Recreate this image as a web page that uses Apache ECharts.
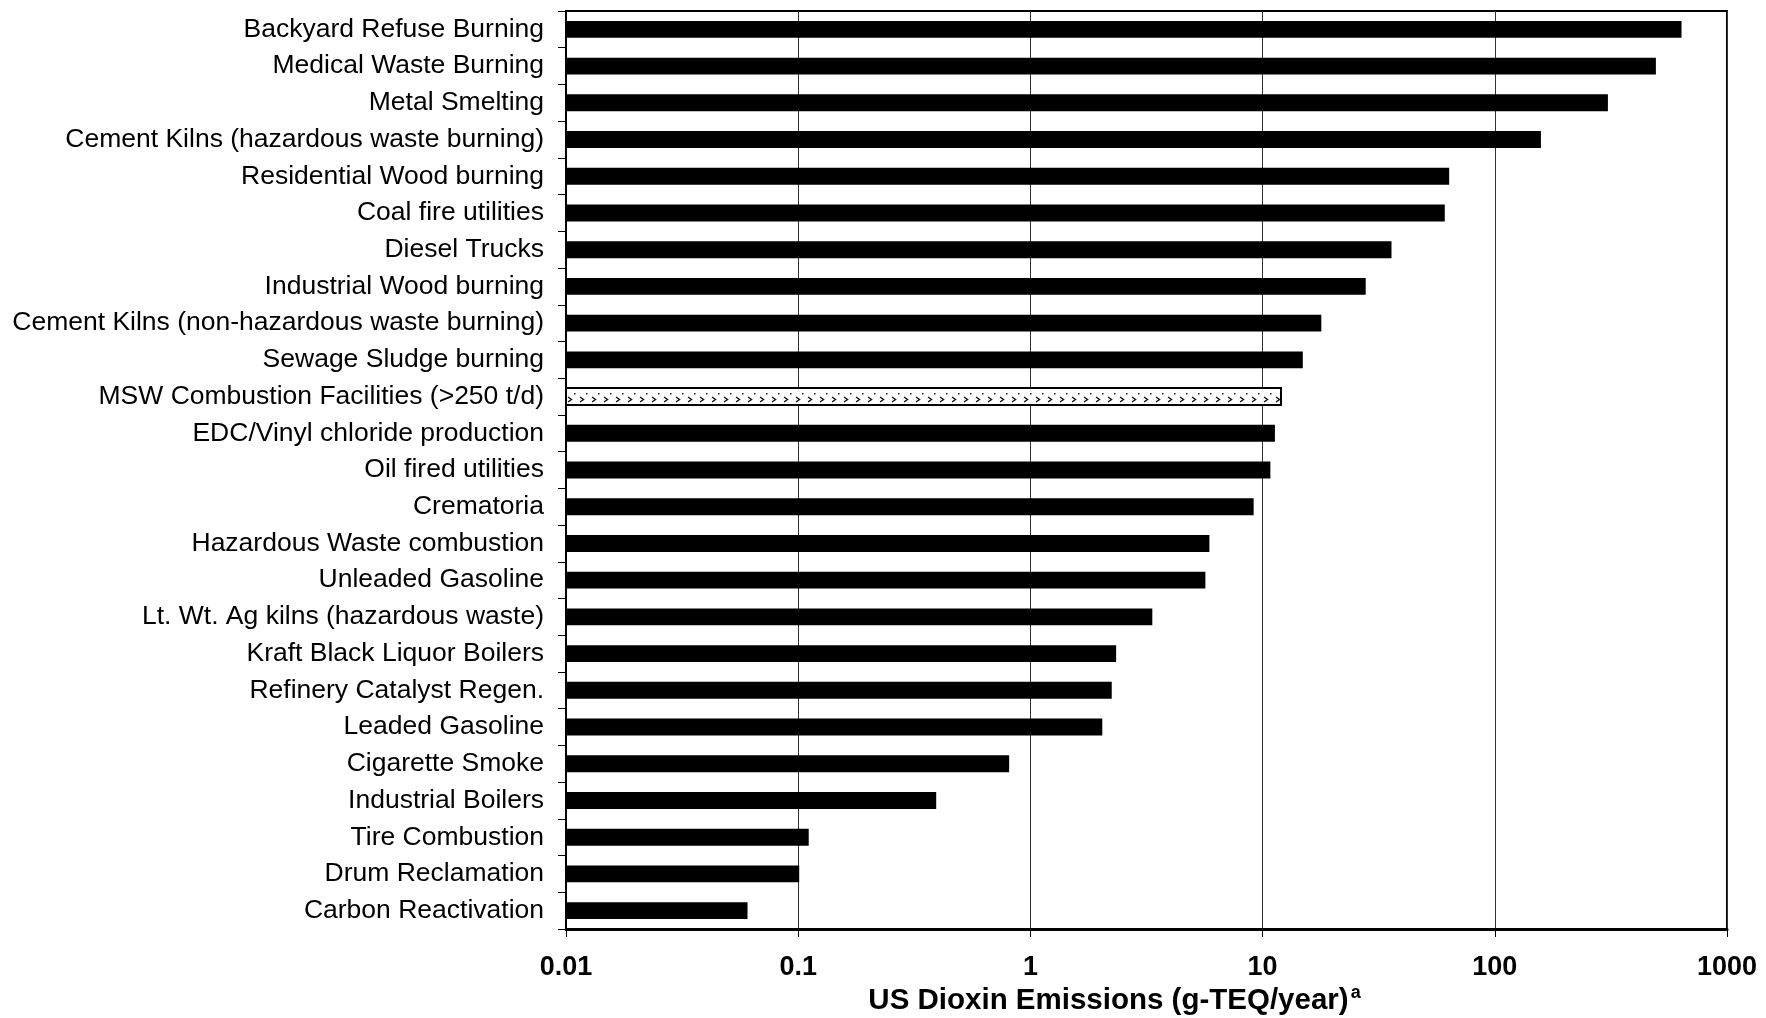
<!DOCTYPE html>
<html>
<head>
<meta charset="utf-8">
<script src="https://cdn.jsdelivr.net/npm/echarts@6/dist/echarts.min.js"></script>
<style>
html,body{margin:0;padding:0;background:#fff;}
#chart{width:1766px;height:1018px;}
</style>
</head>
<body>
<div id="chart"></div>
<script>
// ---- data ----
var categories = [
  'Backyard Refuse Burning',
  'Medical Waste Burning',
  'Metal Smelting',
  'Cement Kilns (hazardous waste burning)',
  'Residential Wood burning',
  'Coal fire utilities',
  'Diesel Trucks',
  'Industrial Wood burning',
  'Cement Kilns (non-hazardous waste burning)',
  'Sewage Sludge burning',
  'MSW Combustion Facilities (>250 t/d)',
  'EDC/Vinyl chloride production',
  'Oil fired utilities',
  'Crematoria',
  'Hazardous Waste combustion',
  'Unleaded Gasoline',
  'Lt. Wt. Ag kilns (hazardous waste)',
  'Kraft Black Liquor Boilers',
  'Refinery Catalyst Regen.',
  'Leaded Gasoline',
  'Cigarette Smoke',
  'Industrial Boilers',
  'Tire Combustion',
  'Drum Reclamation',
  'Carbon Reactivation'
];
var emissions = [
  637, 494, 307, 158, 63.6, 60.9, 35.9, 27.8, 17.9, 14.9,
  12.0, 11.3, 10.8, 9.15, 5.9, 5.67, 3.35, 2.34, 2.24, 2.04,
  0.81, 0.393, 0.111, 0.101, 0.0605
];
var highlighted = ['MSW Combustion Facilities (>250 t/d)'];
var xTicks = [0.01, 0.1, 1, 10, 100, 1000];
var xTitle = 'US Dioxin Emissions (g-TEQ/year)';
var xTitleSup = 'a';

// ---- pattern for highlighted bar ----
function makePattern() {
  var c = document.createElement('canvas');
  c.width = 12; c.height = 17;
  var g = c.getContext('2d');
  g.fillStyle = '#ffffff';
  g.fillRect(0, 0, 12, 17);
  g.strokeStyle = '#111';
  g.lineWidth = 1.4;
  g.beginPath();
  g.moveTo(4, 6); g.lineTo(7.5, 8.5); g.lineTo(4, 11);
  g.stroke();
  g.fillStyle = '#222';
  g.fillRect(10, 2, 1.5, 1.5);
  g.fillRect(10, 13.5, 1.5, 1.5);
  return c;
}
var patternCanvas = makePattern();

var chart = echarts.init(document.getElementById('chart'), null, {renderer: 'canvas'});
var FONT = '"Liberation Sans", Arial, Helvetica, sans-serif';
var xMin = xTicks[0], xMax = xTicks[xTicks.length - 1];

var seriesData = emissions.map(function (v, i) { return [v, i]; });

chart.setOption({
  backgroundColor: '#ffffff',
  animation: false,
  grid: {
    left: 566, right: 39, top: 11, bottom: 89,
    containLabel: false,
    outerBoundsMode: 'none',
    show: true, borderColor: '#000', borderWidth: 2, backgroundColor: 'transparent'
  },
  xAxis: {
    type: 'log',
    logBase: 10,
    min: xMin,
    max: xMax,
    axisLine: {show: true, lineStyle: {color: '#000', width: 3}},
    axisTick: {show: true, length: 8, lineStyle: {color: '#000', width: 1}},
    minorTick: {show: false},
    splitLine: {show: true, lineStyle: {color: '#333', width: 1}},
    axisLabel: {
      color: '#000', fontFamily: FONT, fontSize: 27, fontWeight: 'bold', margin: 25,
      formatter: function (v) { return String(+Number(v).toPrecision(6)); }
    },
    name: '{t|' + xTitle + '}{s|' + xTitleSup + '}',
    nameLocation: 'middle',
    nameGap: 47,
    nameMoveOverlap: false,
    nameTextStyle: {
      padding: [0, 64, 0, 0],
      rich: {
        t: {fontFamily: FONT, fontSize: 29.5, fontWeight: 'bold', color: '#000', lineHeight: 40, verticalAlign: 'bottom'},
        s: {fontFamily: FONT, fontSize: 18, fontWeight: 'bold', color: '#000', lineHeight: 18, verticalAlign: 'top', padding: [8, 0, 0, 2]}
      }
    }
  },
  yAxis: {
    type: 'category',
    inverse: true,
    data: categories,
    axisLine: {show: true, lineStyle: {color: '#000', width: 2}},
    axisTick: {show: true, length: 8, lineStyle: {color: '#000', width: 1}},
    splitLine: {show: false},
    axisLabel: {color: '#000', fontFamily: FONT, fontSize: 26.5, margin: 22, interval: 0}
  },
  series: [{
    type: 'custom',
    data: seriesData,
    encode: {x: 0, y: 1},
    clip: true,
    renderItem: function (params, api) {
      var v = api.value(0);
      var idx = api.value(1);
      var start = api.coord([xMin, idx]);
      var end = api.coord([v, idx]);
      var band = api.size([0, 1])[1];
      var h = band * 0.46;
      var isHi = highlighted.indexOf(categories[idx]) >= 0;
      return {
        type: 'rect',
        shape: {x: start[0], y: end[1] - h / 2, width: end[0] - start[0], height: h},
        style: isHi
          ? {fill: {image: patternCanvas, repeat: 'repeat'}, stroke: '#000', lineWidth: 2}
          : {fill: '#000'}
      };
    }
  }]
});
</script>
</body>
</html>
